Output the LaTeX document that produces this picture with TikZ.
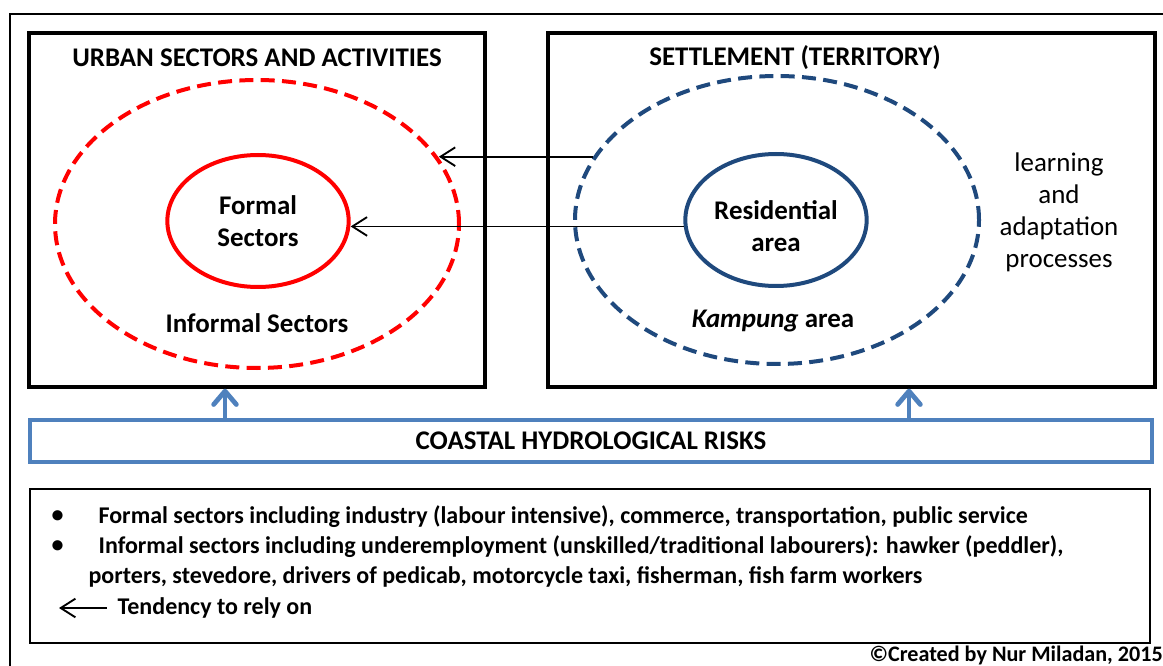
\documentclass[tikz,border=0pt]{standalone}
\usepackage{fontspec}
\setmainfont{Carlito}
\usetikzlibrary{arrows.meta,positioning,shapes.geometric}
\definecolor{riskblue}{HTML}{4F81BD}
\definecolor{kampblue}{HTML}{1F497D}

\begin{document}
\begin{tikzpicture}[
    x=0.75pt, y=-0.75pt,
    >={Straight Barb[length=11pt,width=14pt]},
    frame/.style={draw, line width=2.6pt, minimum height=265.5pt},
    ring/.style={draw, ellipse, line width=3pt, minimum width=303pt, minimum height=216pt, dash pattern=on 10.5pt off 5.5pt},
    core/.style={draw, ellipse, line width=3pt, minimum width=136pt, minimum height=99pt, align=center, font=\fontsize{20.2}{24}\selectfont\bfseries},
    head/.style={font=\fontsize{20.2}{24}\selectfont\bfseries},
    lbl/.style={align=center, font=\fontsize{20.2}{24}\selectfont\bfseries},
    note/.style={anchor=west, inner sep=1pt, font=\fontsize{18}{21}\selectfont\bfseries},
    rely/.style={->, line width=1.4pt},
    push/.style={-{Straight Barb[round,length=10pt,width=17pt]}, line width=3.6pt, riskblue},
]
\useasboundingbox (0,0) rectangle (1163,666);

% outer frame
\begin{scope}
\clip (0,0) rectangle (1163,666);
\draw[line width=2.2pt] (10,14) rectangle (1180,690);
\end{scope}

% urban sectors
\node[frame, minimum width=342pt] (urban) at (257,210) {};
\node[head] (urbantitle) at (257,58) {URBAN SECTORS AND ACTIVITIES};
\node[ring, red] (inf) at (257,224) {};
\node[core, red] (form) at (258,221) {\textcolor{black}{Formal}\\\textcolor{black}{Sectors}};
\node[lbl] (inflbl) at (257,323) {Informal Sectors};

% settlement
\node[frame, minimum width=455pt] (settle) at (851.5,210) {};
\node[head] (settletitle) at (795,58) {SETTLEMENT (TERRITORY)};
\node[ring, kampblue] (kamp) at (777,220) {};
\node[core, kampblue] (res) at (776,220) {};
\node[lbl] (reslbl) at (776,226) {Residential\\area};
\node[lbl] (kamplbl) at (773,321) {\textit{Kampung} area};
\node[align=center, font=\fontsize{20.2}{24}\selectfont] (learn) at (1059,212.5)
    {learning\\and\\adaptation\\processes};

% tendency to rely on
\draw[rely] (kamp.161) -- (kamp.161 -| inf.20);
\draw[rely] (res.184) -- (res.184 -| form.east);

% risks
\node[draw=riskblue, line width=3pt, minimum width=841pt, minimum height=31.5pt,
      font=\fontsize{20.2}{24}\selectfont\bfseries] (risk) at (591,441) {COASTAL HYDROLOGICAL RISKS};
\coordinate (lup) at (225,388);
\coordinate (rup) at (909,388);
\draw[push] (risk.north -| lup) -- (urban.south -| lup);
\draw[push] (risk.north -| rup) -- (settle.south -| rup);

% legend
\node[draw, line width=1.2pt, minimum width=840pt, minimum height=115.5pt] (legend) at (590,566) {};
\node[note] (b1) at (50,517) {\textbullet};
\node[note] (n1) at (97,517) {Formal sectors including industry (labour intensive), commerce, transportation, public service};
\node[note] (b2) at (50,547) {\textbullet};
\node[note] (n2) at (97,547) {Informal sectors including underemployment (unskilled/traditional labourers): hawker (peddler),};
\node[note] (n3) at (87,577) {porters, stevedore, drivers of pedicab, motorcycle taxi, fisherman, fish farm workers};
\node[note] (tend) at (116,608) {Tendency to rely on};
\coordinate (tendtip) at (59,608);
\draw[rely, shorten <=7pt] (tend.west) -- (tendtip);

\node[anchor=base east, inner sep=0pt, font=\fontsize{16.6}{19}\selectfont\bfseries] (credit) at (1163,661) {©Created by Nur Miladan, 2015};
\end{tikzpicture}
\end{document}
